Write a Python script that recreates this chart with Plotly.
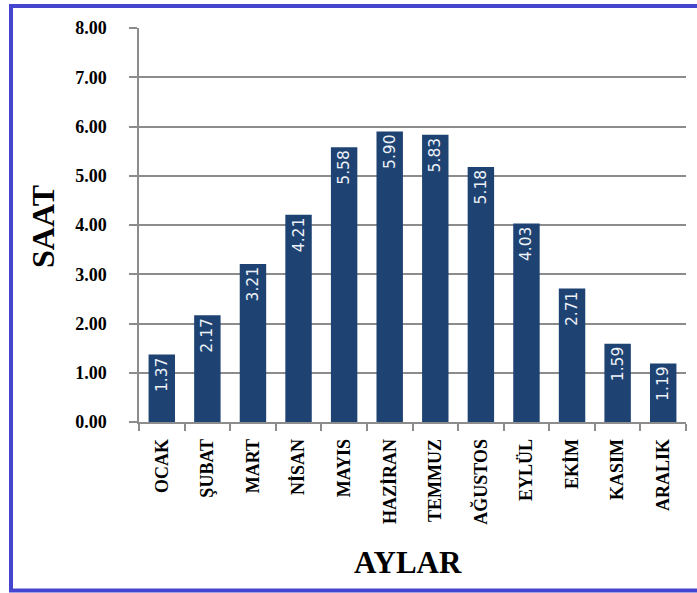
import plotly.graph_objects as go

months = ["OCAK", "ŞUBAT", "MART", "NİSAN", "MAYIS", "HAZİRAN",
          "TEMMUZ", "AĞUSTOS", "EYLÜL", "EKİM", "KASIM", "ARALIK"]
hours = [1.37, 2.17, 3.21, 4.21, 5.58, 5.90, 5.83, 5.18, 4.03, 2.71, 1.59, 1.19]
y_ticks = [0, 1, 2, 3, 4, 5, 6, 7, 8]

W, H = 697, 593
L, R, T, B = 139, 11, 28, 171
pw, ph = W - L - R, H - T - B

def px(x):
    return (x - L) / pw

def py(y):
    return (H - B - y) / ph

serif = "Liberation Serif"

fig = go.Figure(go.Bar(
    x=months, y=hours,
    marker=dict(color="#1E4373", line=dict(width=0)),
    text=[f"{v:.2f}" for v in hours],
    textposition="inside", insidetextanchor="end", textangle=-90,
    textfont=dict(family="DejaVu Sans", size=15.5, color="#EEF2F8"),
    cliponaxis=False,
))

fig.update_layout(
    width=W, height=H,
    margin=dict(l=L, r=R, t=T, b=B),
    paper_bgcolor="white", plot_bgcolor="white",
    bargap=0.42, showlegend=False,
    xaxis=dict(
        showline=True, linecolor="#8C8C8C", linewidth=1.5,
        ticks="outside", tickson="boundaries", ticklen=7, tickcolor="#8C8C8C", tickwidth=1.5,
        tickangle=-90, ticklabelstandoff=8,
        tickfont=dict(family=serif, size=18, color="black", weight="bold"),
        showgrid=False, fixedrange=True,
    ),
    yaxis=dict(
        range=[0, 8], tickvals=y_ticks, tickformat=".2f",
        showline=True, linecolor="#8C8C8C", linewidth=1.5,
        ticks="outside", ticklen=8, tickcolor="#8C8C8C", tickwidth=1.5,
        ticklabelstandoff=19,
        showgrid=True, gridcolor="#8C8C8C", gridwidth=1.5,
        zeroline=False,
        tickfont=dict(family=serif, size=18, color="black", weight="bold"),
    ),
    annotations=[
        dict(text="AYLAR", xref="paper", yref="paper", x=px(408), y=py(562),
             showarrow=False, xanchor="center", yanchor="middle",
             font=dict(family=serif, size=31, color="black", weight="bold")),
        dict(text="SAAT", xref="paper", yref="paper", x=px(43), y=py(227),
             showarrow=False, xanchor="center", yanchor="middle", textangle=-90,
             font=dict(family=serif, size=32, color="black", weight="bold")),
    ],
    shapes=[
        dict(type="rect", xref="paper", yref="paper",
             x0=px(11), x1=px(710), y0=py(590.5), y1=py(6),
             line=dict(color="#4545D0", width=4), fillcolor="rgba(0,0,0,0)", layer="above"),
    ],
)

fig.write_html("out.html", config={"displayModeBar": False},
               post_script="document.body.style.margin='0';document.body.style.padding='0';")
